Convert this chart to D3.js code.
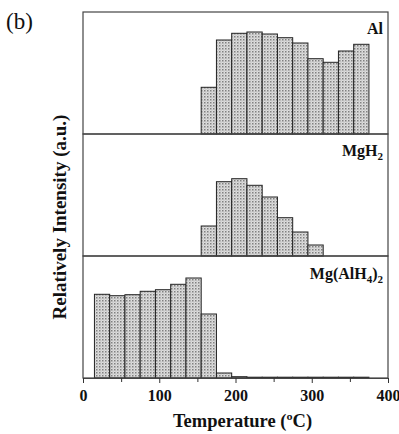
<!DOCTYPE html>
<html>
<head>
<meta charset="utf-8">
<script src="https://cdn.jsdelivr.net/npm/d3@7"></script>
<style>
  body { margin: 0; background: #fff; }
  svg { display: block; }
  svg text { font-family: "Liberation Serif", "Times New Roman", serif; }
</style>
</head>
<body>
<svg width="399" height="434"></svg>
<script>
// bin edges (°C), 20 degree bins
const alBins = [155, 175, 195, 215, 235, 255, 275, 295, 315, 335, 355];
const alValues = [46.7, 94, 100.7, 102, 100, 96.3, 91, 75.3, 71.7, 83, 89.7];

const mgh2Bins = [155, 175, 195, 215, 235, 255, 275, 295];
const mgh2Values = [30, 74.3, 77.3, 70.7, 59, 38.3, 24, 11];

const mgalBins = [15, 35, 55, 75, 95, 115, 135, 155, 175, 195, 215, 235, 255, 275, 295, 315, 335, 355];
const mgalValues = [83.7, 82.3, 83.3, 86.7, 88.3, 93.7, 100, 64, 5, 1.3, 0.8, 0.8, 0.8, 0.8, 0.8, 0.8, 0.8, 0.8];

const binWidth = 20;
const xTicks = [0, 100, 200, 300, 400];
const xMinorTicks = [50, 150, 250, 350];

const panels = [
  { name: "Al", sub: null, bins: alBins, values: alValues },
  { name: "MgH", sub: "2", bins: mgh2Bins, values: mgh2Values },
  { name: "Mg(AlH", sub: "4", tail: ")", sub2: "2", bins: mgalBins, values: mgalValues }
];

const svg = d3.select("svg");
const plotLeft = 83, plotRight = 388, plotTop = 12, panelH = 122;
const plotBottom = plotTop + panelH * panels.length;

const x = d3.scaleLinear().domain([0, 400]).range([plotLeft, plotRight]);

// stipple fill like the original
const defs = svg.append("defs");
const pat = defs.append("pattern")
  .attr("id", "dots")
  .attr("patternUnits", "userSpaceOnUse")
  .attr("width", 3).attr("height", 3);
pat.append("rect").attr("width", 3).attr("height", 3).attr("fill", "#dedede");
pat.append("rect").attr("x", 0).attr("y", 0).attr("width", 1.5).attr("height", 1.5).attr("fill", "#808080");
pat.append("rect").attr("x", 1.5).attr("y", 1.5).attr("width", 1).attr("height", 1).attr("fill", "#aaaaaa");

panels.forEach((p, i) => {
  const y0 = plotTop + i * panelH;
  const y = d3.scaleLinear().domain([0, panelH]).range([y0 + panelH, y0]);
  const g = svg.append("g");

  g.selectAll("rect.bar")
    .data(p.values)
    .enter().append("rect")
      .attr("class", "bar")
      .attr("x", (d, j) => x(p.bins[j]))
      .attr("width", (d, j) => x(p.bins[j] + binWidth) - x(p.bins[j]))
      .attr("y", d => y(d))
      .attr("height", d => y(0) - y(d))
      .attr("fill", "url(#dots)")
      .attr("stroke", "#222")
      .attr("stroke-width", 1);

  // panel frame
  g.append("rect")
    .attr("x", plotLeft).attr("y", y0)
    .attr("width", plotRight - plotLeft).attr("height", panelH)
    .attr("fill", "none")
    .attr("stroke", "#444")
    .attr("stroke-width", 1.2);

  // label
  const t = g.append("text")
    .attr("x", 383)
    .attr("y", y0 + 22 + (i === 2 ? 1 : 0))
    .attr("text-anchor", "end")
    .attr("font-weight", "bold")
    .attr("font-size", 16)
    .attr("fill", "#111");
  t.append("tspan").text(p.name);
  if (p.sub) t.append("tspan").attr("font-size", 11).attr("dy", 4).text(p.sub);
  if (p.tail) t.append("tspan").attr("dy", -4).text(p.tail);
  if (p.sub2) t.append("tspan").attr("font-size", 11).attr("dy", 4).text(p.sub2);
});

// x axis
const axis = svg.append("g")
  .attr("transform", `translate(0,${plotBottom})`)
  .call(d3.axisBottom(x).tickValues(xTicks).tickSize(5).tickSizeOuter(0).tickPadding(0));
axis.select(".domain").attr("stroke", "#444").attr("stroke-width", 1.2);
axis.selectAll(".tick line").attr("stroke", "#333");
axis.selectAll(".tick text")
  .attr("dy", null)
  .attr("y", 23)
  .style("font-family", "'Liberation Serif', serif")
  .attr("font-weight", "bold")
  .attr("font-size", 16)
  .attr("fill", "#111");

const minor = svg.append("g")
  .attr("transform", `translate(0,${plotBottom})`)
  .call(d3.axisBottom(x).tickValues(xMinorTicks).tickSize(4).tickFormat(""));
minor.select(".domain").remove();
minor.selectAll(".tick line").attr("stroke", "#333");

// axis titles
svg.append("text")
  .attr("x", (plotLeft + plotRight) / 2 + 7)
  .attr("y", 427)
  .attr("text-anchor", "middle")
  .attr("font-weight", "bold")
  .attr("font-size", 18.5)
  .attr("fill", "#111")
  .text("Temperature (ºC)");

svg.append("text")
  .attr("transform", `translate(66,${(plotTop + plotBottom) / 2 + 22}) rotate(-90)`)
  .attr("text-anchor", "middle")
  .attr("font-weight", "bold")
  .attr("font-size", 19)
  .attr("fill", "#111")
  .text("Relatively Intensity (a.u.)");

svg.append("text")
  .attr("x", 6)
  .attr("y", 29)
  .attr("font-size", 23)
  .attr("fill", "#111")
  .text("(b)");
</script>
</body>
</html>
